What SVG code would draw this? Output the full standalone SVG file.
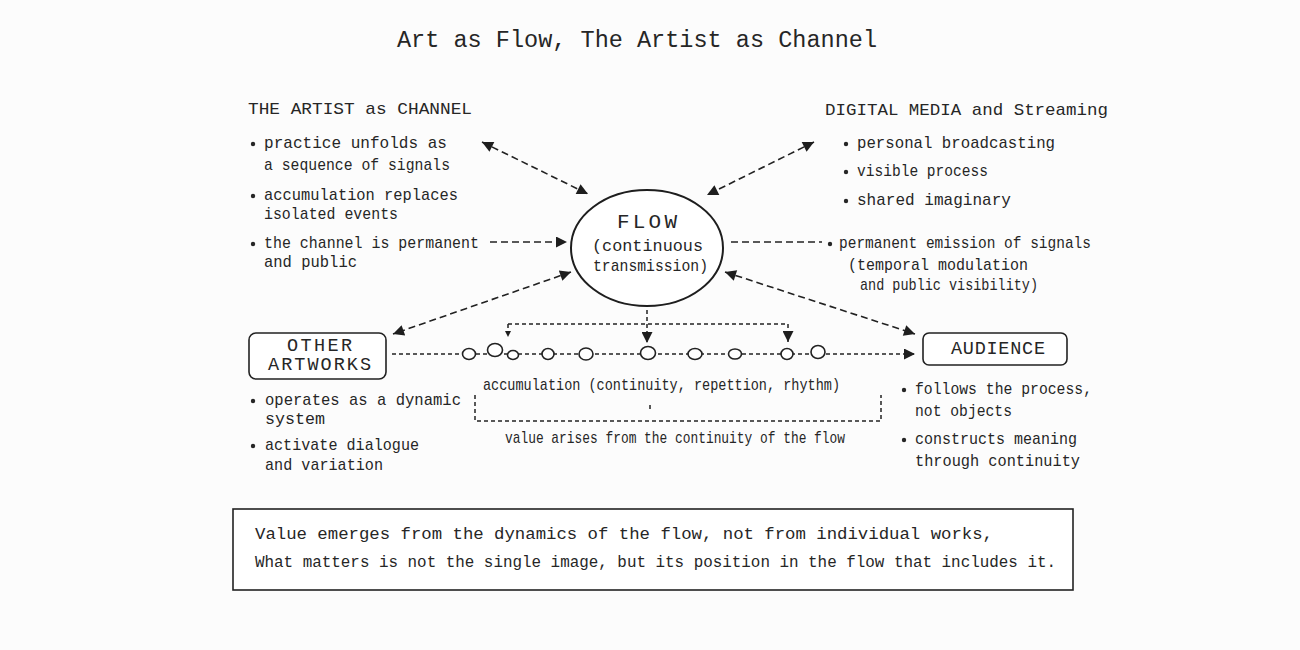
<svg xmlns="http://www.w3.org/2000/svg" width="1300" height="650" viewBox="0 0 1300 650">
<defs>
<style>
text{font-family:"Liberation Mono","Courier New",monospace;fill:#262626;font-size:17px}
.t{font-size:23.5px}
.b{font-size:16px}
.f{font-size:21px}
.k{font-size:18.5px}
.ln{fill:none;stroke:#222;stroke-width:1.6;stroke-dasharray:7 4}
.lf{fill:none;stroke:#222;stroke-width:1.5;stroke-dasharray:4 3}
.node{fill:#fff;stroke:#222;stroke-width:1.6}
.dot{fill:#262626}
.sig{fill:#fff;stroke:#222;stroke-width:1.6}
</style>
<marker id="ah" viewBox="0 0 10 10" refX="10" refY="5" markerWidth="14" markerHeight="11" markerUnits="userSpaceOnUse" orient="auto-start-reverse"><path d="M0,0 L10,5 L0,10 z" fill="#1e1e1e"/></marker>
<marker id="as" viewBox="0 0 10 10" refX="10" refY="5" markerWidth="8" markerHeight="6" markerUnits="userSpaceOnUse" orient="auto"><path d="M0,0 L10,5 L0,10 z" fill="#1e1e1e"/></marker>
</defs>
<rect width="1300" height="650" fill="#fcfcfc"/>

<text class="t" x="397" y="47" textLength="480" lengthAdjust="spacingAndGlyphs">Art as Flow, The Artist as Channel</text>

<g id="connectors">
<line class="ln" x1="482" y1="142" x2="588" y2="194" marker-start="url(#ah)" marker-end="url(#ah)"/>
<line class="ln" x1="814" y1="142" x2="707" y2="195" marker-start="url(#ah)" marker-end="url(#ah)"/>
<line class="ln" x1="490" y1="242" x2="567" y2="242" marker-end="url(#ah)"/>
<line class="ln" x1="731" y1="242" x2="822" y2="242"/>
<line class="ln" x1="571" y1="272" x2="393" y2="334" marker-start="url(#ah)" marker-end="url(#ah)"/>
<line class="ln" x1="725" y1="272" x2="915" y2="334" marker-start="url(#ah)" marker-end="url(#ah)"/>
<line class="lf" x1="647" y1="310" x2="647" y2="343" marker-end="url(#ah)"/>
<path class="lf" d="M508,324 H788"/>
<line class="lf" x1="508" y1="324" x2="508" y2="337" marker-end="url(#as)"/>
<line class="lf" x1="788" y1="324" x2="788" y2="342" marker-end="url(#ah)"/>
<line class="lf" x1="392" y1="354" x2="915" y2="354" marker-end="url(#ah)"/>
<path class="lf" d="M475,395 V421 H881 V395"/>
<line class="lf" x1="650" y1="405" x2="650" y2="412"/>
</g>

<g id="signals">
<ellipse class="sig" cx="469" cy="354" rx="6.5" ry="5.5"/>
<ellipse class="sig" cx="495" cy="350" rx="7.5" ry="6.5"/>
<ellipse class="sig" cx="513" cy="355" rx="5.5" ry="4.5"/>
<ellipse class="sig" cx="548" cy="354" rx="6" ry="5.5"/>
<ellipse class="sig" cx="586" cy="354" rx="7" ry="6"/>
<ellipse class="sig" cx="648" cy="353" rx="7.5" ry="6.5"/>
<ellipse class="sig" cx="695" cy="354" rx="7" ry="5.5"/>
<ellipse class="sig" cx="735" cy="354" rx="6.5" ry="5"/>
<ellipse class="sig" cx="787" cy="354" rx="6" ry="5.5"/>
<ellipse class="sig" cx="818" cy="352" rx="7" ry="6.5"/>
</g>

<g id="flow">
<ellipse cx="647" cy="248" rx="76" ry="58" fill="#fff" stroke="#1e1e1e" stroke-width="2"/>
<text class="f" x="617" y="228" textLength="60" lengthAdjust="spacing">FLOW</text>
<text x="592" y="251" textLength="111" lengthAdjust="spacingAndGlyphs">(continuous</text>
<text x="593" y="271" textLength="115" lengthAdjust="spacingAndGlyphs">transmission)</text>
</g>

<g id="artist-channel">
<text x="248" y="114" textLength="224" lengthAdjust="spacingAndGlyphs">THE ARTIST as CHANNEL</text>
<circle class="dot" cx="253" cy="144" r="2.2"/>
<text x="264" y="148" textLength="183" lengthAdjust="spacingAndGlyphs">practice unfolds as</text>
<text x="264" y="170" textLength="186" lengthAdjust="spacingAndGlyphs">a sequence of signals</text>
<circle class="dot" cx="253" cy="196" r="2.2"/>
<text x="264" y="200" textLength="194" lengthAdjust="spacingAndGlyphs">accumulation replaces</text>
<text x="264" y="219" textLength="134" lengthAdjust="spacingAndGlyphs">isolated events</text>
<circle class="dot" cx="253" cy="244" r="2.2"/>
<text x="264" y="248" textLength="215" lengthAdjust="spacingAndGlyphs">the channel is permanent</text>
<text x="264" y="267" textLength="93" lengthAdjust="spacingAndGlyphs">and public</text>
</g>

<g id="digital-media">
<text x="825" y="115" textLength="283" lengthAdjust="spacingAndGlyphs">DIGITAL MEDIA and Streaming</text>
<circle class="dot" cx="846" cy="144" r="2.2"/>
<text x="857" y="148" textLength="198" lengthAdjust="spacingAndGlyphs">personal broadcasting</text>
<circle class="dot" cx="846" cy="172" r="2.2"/>
<text x="857" y="176" textLength="131" lengthAdjust="spacingAndGlyphs">visible process</text>
<circle class="dot" cx="846" cy="201" r="2.2"/>
<text x="857" y="205" textLength="154" lengthAdjust="spacingAndGlyphs">shared imaginary</text>
<circle class="dot" cx="830" cy="244" r="2.2"/>
<text x="839" y="248" textLength="252" lengthAdjust="spacingAndGlyphs">permanent emission of signals</text>
<text x="848" y="270" textLength="180" lengthAdjust="spacingAndGlyphs">(temporal modulation</text>
<text x="860" y="290" textLength="178" lengthAdjust="spacingAndGlyphs">and public visibility)</text>
</g>

<g id="other-artworks">
<rect class="node" x="249" y="333" width="137" height="46" rx="7"/>
<text class="k" x="287" y="351" textLength="65" lengthAdjust="spacing">OTHER</text>
<text class="k" x="268" y="370" textLength="103" lengthAdjust="spacing">ARTWORKS</text>
<circle class="dot" cx="253" cy="401" r="2.2"/>
<text x="265" y="405" textLength="196" lengthAdjust="spacingAndGlyphs">operates as a dynamic</text>
<text x="265" y="424" textLength="60" lengthAdjust="spacingAndGlyphs">system</text>
<circle class="dot" cx="253" cy="446" r="2.2"/>
<text x="265" y="450" textLength="154" lengthAdjust="spacingAndGlyphs">activate dialogue</text>
<text x="265" y="470" textLength="118" lengthAdjust="spacingAndGlyphs">and variation</text>
</g>

<g id="audience">
<rect class="node" x="923" y="333" width="144" height="32" rx="6"/>
<text class="k" x="951" y="354" textLength="94" lengthAdjust="spacing">AUDIENCE</text>
<circle class="dot" cx="904" cy="390" r="2.2"/>
<text x="915" y="394" textLength="177" lengthAdjust="spacingAndGlyphs">follows the process,</text>
<text x="915" y="416" textLength="97" lengthAdjust="spacingAndGlyphs">not objects</text>
<circle class="dot" cx="904" cy="440" r="2.2"/>
<text x="915" y="444" textLength="162" lengthAdjust="spacingAndGlyphs">constructs meaning</text>
<text x="915" y="466" textLength="165" lengthAdjust="spacingAndGlyphs">through continuity</text>
</g>

<g id="accumulation">
<text x="483" y="390" textLength="357" lengthAdjust="spacingAndGlyphs">accumulation (continuity, repettion, rhythm)</text>
<text x="505" y="443" textLength="340" lengthAdjust="spacingAndGlyphs">value arises from the continuity of the flow</text>
</g>

<g id="conclusion">
<rect x="233" y="509" width="840" height="81" fill="#fff" stroke="#222" stroke-width="1.6"/>
<text class="b" x="255" y="539" textLength="738" lengthAdjust="spacingAndGlyphs">Value emerges from the dynamics of the flow, not from individual works,</text>
<text class="b" x="255" y="567" textLength="801" lengthAdjust="spacingAndGlyphs">What matters is not the single image, but its position in the flow that includes it.</text>
</g>
</svg>
